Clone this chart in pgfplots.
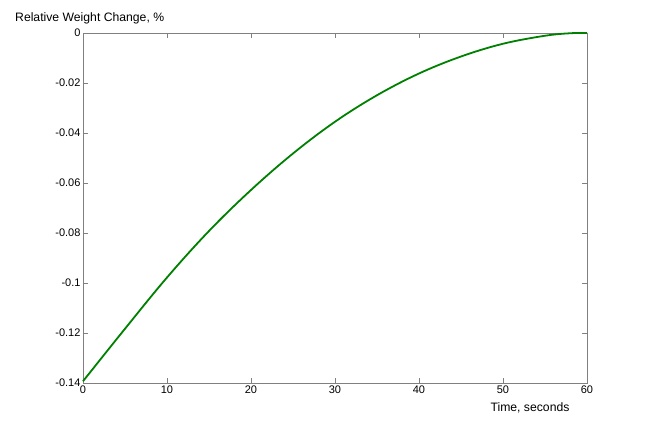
\documentclass[border=0pt]{standalone}
\usepackage{fontspec}
\setmainfont{Liberation Sans}
\usepackage{pgfplots}
\pgfplotsset{compat=1.18}
\definecolor{mgreen}{rgb}{0.0,0.5,0.0}
\definecolor{axgray}{gray}{0.5}
\begin{document}
\begin{tikzpicture}[x=1pt,y=1pt]
\useasboundingbox (-83,-49) rectangle (566,383);
\begin{axis}[
    at={(0,0)}, anchor=south west,
    scale only axis,
    width=504pt, height=350pt,
    xmin=0, xmax=60, ymin=-0.14, ymax=0,
    xtick={0,10,...,60},
    ytick={-0.14,-0.12,-0.1,-0.08,-0.06,-0.04,-0.02,0},
    yticklabels={-0.14,-0.12,-0.1,-0.08,-0.06,-0.04,-0.02,0},
    xticklabels={0,10,20,30,40,50,60},
    tick align=inside,
    major tick length=5pt,
    axis line style={axgray, line width=0.9pt},
    every tick/.style={axgray, line width=0.8pt},
    tick label style={font=\fontsize{11}{13}\selectfont},
    xticklabel style={yshift=1pt},
    yticklabel style={xshift=1pt},
    /pgf/number format/assume math mode=true,
    clip=false,
]
\addplot[mgreen, line width=1.8pt, smooth, tension=0.6] coordinates {
    (0,-0.1393) (5,-0.1183) (10,-0.0978) (15,-0.0792) (20,-0.0628)
    (25,-0.0482) (30,-0.0355) (35,-0.0249) (40,-0.0162) (45,-0.0094)
    (50,-0.0043) (55,-0.0011) (58,-0.0001) (60,0)
};
\node[anchor=base west, font=\fontsize{12.2}{14}\selectfont, inner sep=0pt]
    at (rel axis cs:0,1) [xshift=-68pt, yshift=12pt] {Relative Weight Change, \%};
\node[anchor=base, font=\fontsize{12.2}{14}\selectfont, inner sep=0pt]
    at (rel axis cs:0,0) [xshift=447pt, yshift=-28pt] {Time, seconds};
\end{axis}
\end{tikzpicture}
\end{document}
